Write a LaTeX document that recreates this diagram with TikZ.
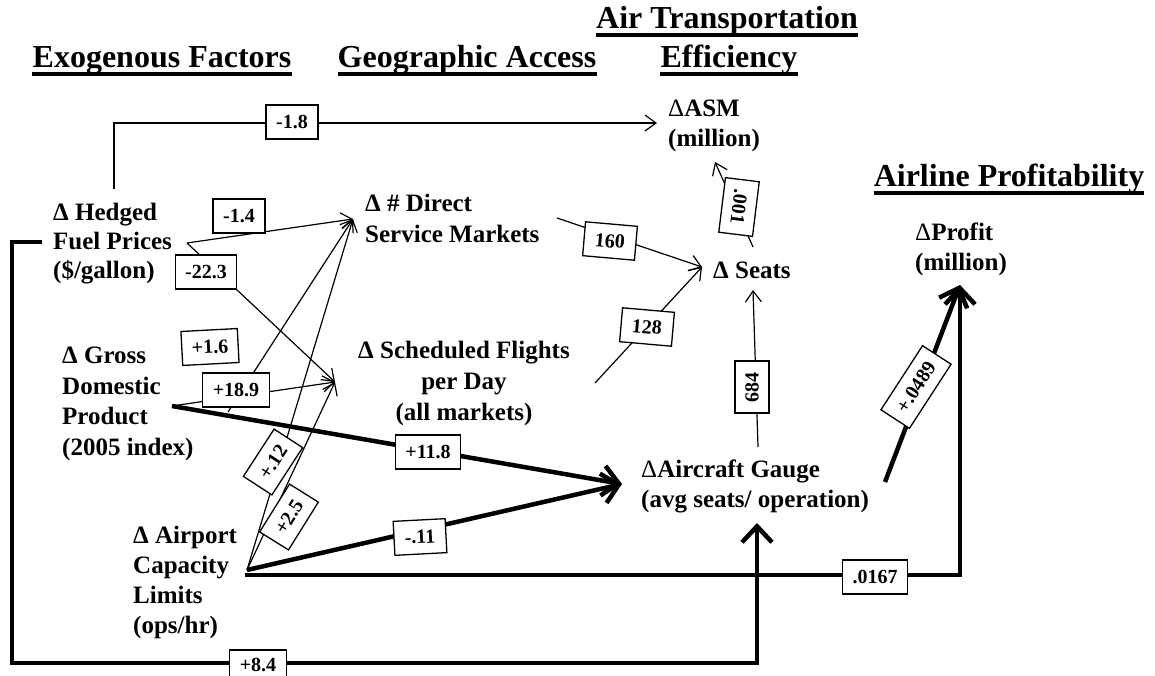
\documentclass[tikz,border=0pt]{standalone}
\usepackage{fontspec}
\setmainfont{Liberation Serif}
\usetikzlibrary{arrows.meta}
\begin{document}
\begin{tikzpicture}[x=1pt,y=-1pt,
  hdr/.style={font=\fontsize{32}{40}\selectfont\bfseries, inner sep=0, anchor=base, align=center},
  var/.style={font=\fontsize{25}{#1}\selectfont\bfseries, inner sep=0, align=left, anchor=base west},
  var/.default=30,
  lbl/.style={draw, line width=1.3, fill=white, font=\fontsize{20}{23}\selectfont\bfseries, inner xsep=10, inner ysep=0, minimum height=34, minimum width=52},
  thinarr/.style={line width=1.2, -{Straight Barb[length=11,width=16]}},
  thickarr/.style={line width=4.5, -{Straight Barb[length=16,width=30]}},
  ul/.style={line width=3.5},
]
\useasboundingbox (0,0) rectangle (1155,676);
% headers
\node[hdr] (hexo) at (162,68) {Exogenous Factors};
\node[hdr] (hgeo) at (467,68) {Geographic Access};
\node[hdr] (hair) at (727,29) {Air Transportation};
\node[hdr] (heff) at (729,68) {Efficiency};
\node[hdr] (hprof) at (1009,187) {Airline Profitability};
\foreach \h in {hexo,hgeo,hair,heff,hprof}
  \draw[ul] ([yshift=-6pt]\h.base west) -- ([yshift=-6pt]\h.base east);
% variables (anchored at the baseline of the last line)
\node[var=29] (fuel) at (53,278) {Δ Hedged\\Fuel Prices\\(\$/gallon)};
\node[var=30.5] (gdp) at (62,455) {Δ Gross\\Domestic\\Product\\(2005 index)};
\node[var=30] (air) at (133,633) {Δ Airport\\Capacity\\Limits\\(ops/hr)};
\node[var] (direct) at (365,242) {Δ \# Direct\\Service Markets};
\node[var=31, align=center, anchor=base] (sched) at (464,420) {Δ Scheduled Flights\\per Day\\(all markets)};
\node[var] (asm) at (668,147) {{\mdseries Δ}ASM\\(million)};
\node[var] (seats) at (713,278) {Δ Seats};
\node[var] (gauge) at (641,507) {{\mdseries Δ}Aircraft Gauge\\(avg seats/ operation)};
\node[var] (profit) at (915,270) {{\mdseries Δ}Profit\\(million)};
% ports
\coordinate (fuelTop) at (114,189);
\coordinate (topCorner) at (114,123);
\coordinate (asmIn) at (657,123);
\coordinate (fuelOut) at (187,243);
\coordinate (directIn) at (353,219);
\coordinate (schedIn) at (335,382);
\coordinate (gdpOut) at (172,406);
\coordinate (gdpMid) at (228,412);
\coordinate (gaugeIn) at (622,484);
\coordinate (airOut) at (247,570);
\coordinate (airOutH) at (245,575);
\coordinate (profitCorner) at (960,575);
\coordinate (profitIn) at (960,285);
\coordinate (gaugeOut) at (885,482);
\coordinate (directOut) at (557,218);
\coordinate (seatsIn) at (702,267);
\coordinate (schedOut) at (595,383);
\coordinate (gaugeTop) at (758,447);
\coordinate (seatsBottom) at (753,290);
\coordinate (seatsTop) at (753,247);
\coordinate (asmBottom) at (715,162);
\coordinate (fuelLeft) at (42,242);
\coordinate (loopA) at (12,242);
\coordinate (loopB) at (12,663);
\coordinate (loopC) at (757,663);
\coordinate (gaugeBottom) at (757,523);
% connectors
\draw[thinarr] (fuelTop) -- (topCorner) -- (asmIn);
\draw[thinarr] (fuelOut) -- (directIn);
\draw[thinarr] (fuelOut) -- (schedIn);
\draw[thinarr] (gdpOut) -- (schedIn);
\draw[thinarr] (gdpMid) -- (directIn);
\draw[thinarr] (airOut) -- (directIn);
\draw[thinarr] (airOut) -- (schedIn);
\draw[thickarr] (gdpOut) -- (gaugeIn);
\draw[thickarr] (airOut) -- (gaugeIn);
\draw[thickarr] (airOutH) -- (profitCorner) -- (profitIn);
\draw[thickarr] (gaugeOut) -- (profitIn);
\draw[thinarr] (directOut) -- (seatsIn);
\draw[thinarr] (schedOut) -- (seatsIn);
\draw[thinarr] (gaugeTop) -- (seatsBottom);
\draw[thinarr] (seatsTop) -- (asmBottom);
\draw[thickarr] (fuelLeft) -- (loopA) -- (loopB) -- (loopC) -- (gaugeBottom);
% labels
\node[lbl] (m18) at (292,122) {-1.8};
\node[lbl] (m14) at (239,216) {-1.4};
\node[lbl] (m223) at (206,272) {-22.3};
\node[lbl, rotate=3] (p16) at (210,347) {+1.6};
\node[lbl] (p189) at (236,390) {+18.9};
\node[lbl] (p118) at (428,452) {+11.8};
\node[lbl, rotate=57] (p12) at (273,462) {+.12};
\node[lbl, rotate=58] (p25) at (289,517) {+2.5};
\node[lbl, rotate=3] (m11) at (420,537) {-.11};
\node[lbl] (p0167) at (875,577) {.0167};
\node[lbl, minimum height=30] (p84) at (258,665) {+8.4};
\node[lbl, rotate=-5] (l160) at (610,241) {160};
\node[lbl, rotate=-5] (l128) at (647,327) {128};
\node[lbl, rotate=90] (l684) at (752,387) {684};
\node[lbl, rotate=-97] (l001) at (739,207) {.001};
\node[lbl, rotate=57] (p0489) at (916,387) {+.0489};
\end{tikzpicture}
\end{document}
